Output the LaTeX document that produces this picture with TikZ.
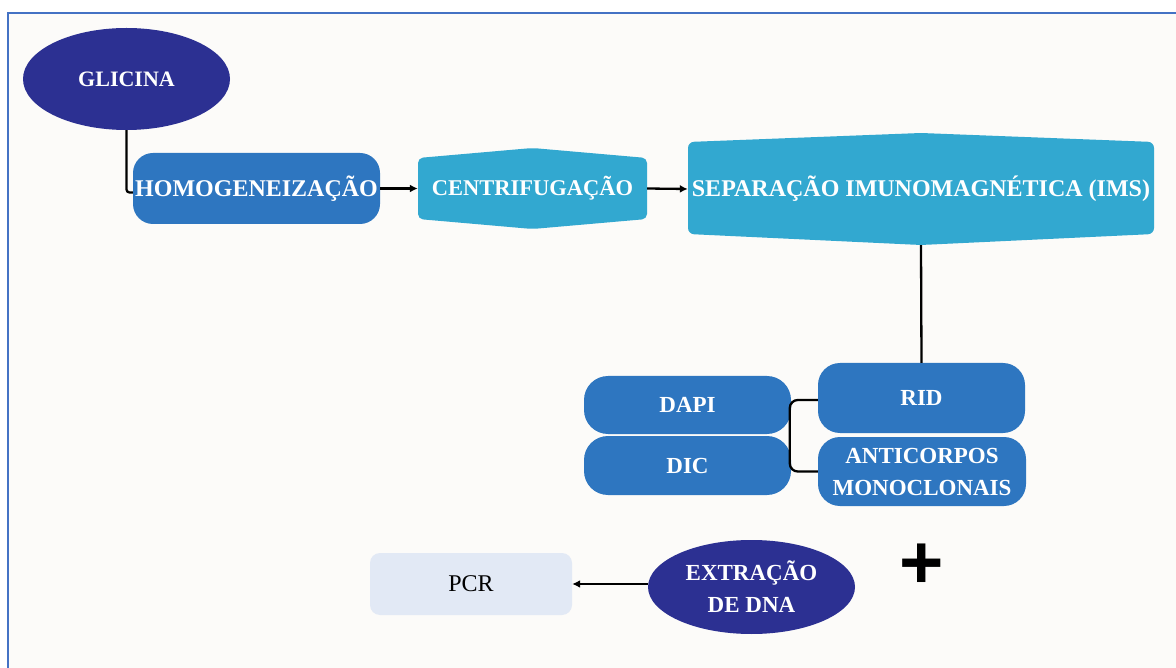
\documentclass[tikz,border=0pt]{standalone}
\usepackage{fontspec}
\setmainfont{Liberation Serif}
\newfontfamily\plusfont{Liberation Sans}
\usetikzlibrary{shapes.geometric,arrows.meta}
\definecolor{navyc}{RGB}{44,48,146}
\definecolor{medblue}{RGB}{46,118,192}
\definecolor{tealc}{RGB}{50,168,208}
\definecolor{pcrfill}{RGB}{226,233,245}
\definecolor{bgc}{RGB}{252,251,249}
\definecolor{framec}{RGB}{68,114,196}
\tikzset{
  lbl/.style={text=white,font=\bfseries\fontsize{23}{32}\selectfont,align=center,inner sep=0pt},
  bluebox/.style={lbl,rectangle,fill=medblue,rounded corners=#1},
  bluebox/.default=20pt,
  oval/.style={lbl,ellipse,fill=navyc},
  hexlbl/.style={lbl,rectangle},
  conn/.style={draw=black,line width=2.3pt},
  arr/.style={conn,-{Latex[length=8pt,width=8pt]}},
}
\begin{document}
\begin{tikzpicture}[x=1pt,y=-1pt]
\useasboundingbox (0,0) rectangle (1176,668);
\fill[white] (0,0) rectangle (1176,668);
\fill[bgc] (8,13) rectangle (1176,668);
\draw[framec,line width=2pt] (8,668) -- (8,13) -- (1176,13);

% hexagonal shapes
\fill[tealc,rounded corners=5pt] (418,158) -- (532.5,148) -- (647,158) -- (647,219) -- (532.5,229) -- (418,219) -- cycle;
\fill[tealc,rounded corners=6pt] (688,142) -- (921,133) -- (1154,142) -- (1154,234) -- (921,245) -- (688,234) -- cycle;

\node[oval,minimum width=207pt,minimum height=102pt,font=\bfseries\fontsize{22}{26}\selectfont] (gli) at (126.5,79) {GLICINA};
\node[bluebox,minimum width=247pt,minimum height=71pt,font=\bfseries\fontsize{24}{28}\selectfont] (hom) at (256.5,188.5) {HOMOGENEIZAÇÃO};
\node[hexlbl,minimum width=229pt,minimum height=81pt,font=\bfseries\fontsize{22.5}{28}\selectfont] (cen) at (532.5,188.5) {CENTRIFUGAÇÃO};
\node[hexlbl,minimum width=466pt,minimum height=112pt,font=\bfseries\fontsize{24}{28}\selectfont] (sep) at (921,189) {SEPARAÇÃO IMUNOMAGNÉTICA (IMS)};
\node[bluebox=22pt,minimum width=207pt,minimum height=70pt] (rid) at (921.5,398) {RID};
\node[bluebox=22pt,minimum width=208pt,minimum height=69pt] (anti) at (922,471.5) {ANTICORPOS\\MONOCLONAIS};
\node[bluebox=24pt,minimum width=207pt,minimum height=58pt] (dapi) at (687.5,405) {DAPI};
\node[bluebox=24pt,minimum width=207pt,minimum height=59pt] (dic) at (687.5,465.5) {DIC};
\node[rectangle,fill=pcrfill,rounded corners=10pt,minimum width=202pt,minimum height=62pt,font=\fontsize{24}{28}\selectfont,inner sep=0pt] (pcr) at (471,584) {PCR};
\node[oval,minimum width=207pt,minimum height=94pt] (ext) at (751.5,587) {EXTRAÇÃO\\DE DNA};
\node[font=\plusfont\bfseries\fontsize{76}{80}\selectfont,inner sep=0pt] (plus) at (921.5,566) {+};

% connectors
\draw[conn,rounded corners=3pt] (gli.south) |- ([yshift=-4pt]hom.west);
\draw[arr] (hom.east) -- (cen.west);
\draw[arr] (cen.east) -- (sep.west);
\draw[conn] (sep.south) -- (rid.north);
\draw[conn,rounded corners=8pt] ([yshift=-2pt]rid.west) -- ++(-28,0) |- (anti.west);
\draw[arr,line width=2pt] (pcr.east -| ext.west) -- (pcr.east);
\end{tikzpicture}
\end{document}
